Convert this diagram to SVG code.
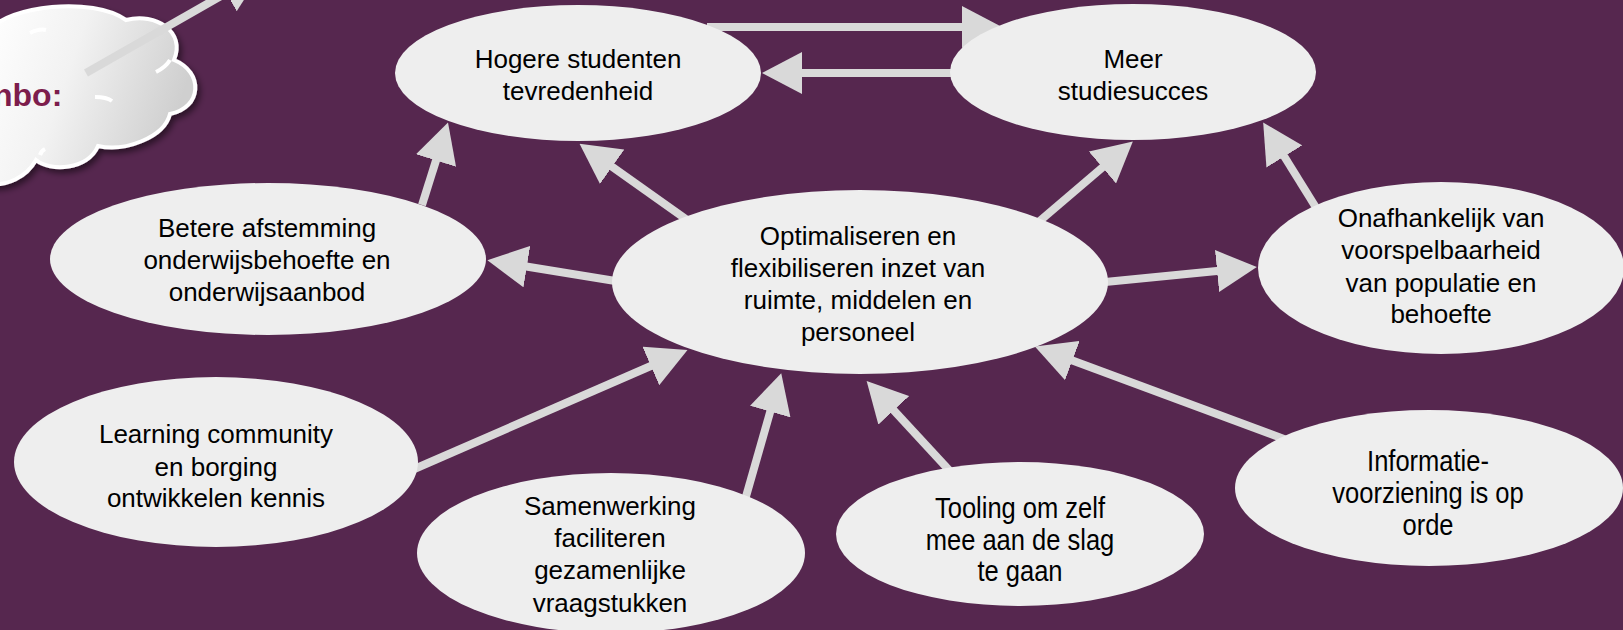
<svg xmlns="http://www.w3.org/2000/svg" width="1623" height="630" viewBox="0 0 1623 630">
<defs>
<style>
.node{fill:#EEEEEE;}
.lbl{font-family:"Liberation Sans",Arial,sans-serif;font-size:26px;fill:#000;text-anchor:middle;}
.nar{font-family:"Liberation Sans",Arial,sans-serif;font-size:29px;fill:#000;text-anchor:middle;}
.conn{stroke:#D9D9D9;stroke-width:8;fill:none;marker-end:url(#ah);}
</style>
<marker id="ah" markerUnits="userSpaceOnUse" markerWidth="40" markerHeight="42" refX="10" refY="21" orient="auto" viewBox="0 0 40 42">
<path d="M0,0 L40,21 L0,42 Z" fill="#D9D9D9"/>
</marker>
<linearGradient id="cloudg" x1="0" y1="0" x2="1" y2="0.3">
<stop offset="0" stop-color="#FFFFFF"/>
<stop offset="0.45" stop-color="#F2F2F2"/>
<stop offset="1" stop-color="#CFCFCF"/>
</linearGradient>
<filter id="shadow" x="-20%" y="-20%" width="150%" height="150%">
<feDropShadow dx="3" dy="4" stdDeviation="3" flood-color="#000" flood-opacity="0.5"/>
</filter>
</defs>
<rect width="1623" height="630" fill="#56274F"/>

<g id="cloud">
<path d="M-10,30 C8,6 92,-4 126,20 C156,12 186,32 174,60 C204,72 202,108 170,114 C164,138 124,152 98,146 C88,170 50,172 36,160 C26,178 6,186 -10,184 Z" fill="url(#cloudg)" stroke="#FFFFFF" stroke-width="4" filter="url(#shadow)"/>
<path d="M30,33 C36,30 42,29 46,30" fill="none" stroke="#FFFFFF" stroke-width="4"/>
<path d="M156,72 C162,69 167,65 170,60" fill="none" stroke="#FFFFFF" stroke-width="4"/>
<path d="M95,97 C102,97 108,98 112,101" fill="none" stroke="#FFFFFF" stroke-width="4"/>
<path d="M40,155 C41,152 43,150 45,149" fill="none" stroke="#FFFFFF" stroke-width="4"/>
<text x="-7" y="106" style="font-family:'Liberation Sans',Arial,sans-serif;font-size:32px;font-weight:bold;fill:#7D1D4C">nbo:</text>
</g>

<g id="connectors">
<line class="conn" x1="86" y1="73" x2="235" y2="-12"/>
<line class="conn" x1="707" y1="27" x2="972" y2="27"/>
<line class="conn" x1="990" y1="73" x2="792" y2="73"/>
<line class="conn" x1="422" y1="205" x2="439" y2="151"/>
<line class="conn" x1="690" y1="222" x2="604" y2="161"/>
<line class="conn" x1="640" y1="285" x2="517" y2="265"/>
<line class="conn" x1="1035" y1="225" x2="1110" y2="161"/>
<line class="conn" x1="1320" y1="214" x2="1279" y2="148"/>
<line class="conn" x1="1095" y1="283" x2="1227" y2="270"/>
<line class="conn" x1="412" y1="470" x2="660" y2="362"/>
<line class="conn" x1="745" y1="500" x2="773" y2="402"/>
<line class="conn" x1="960" y1="482" x2="887" y2="403"/>
<line class="conn" x1="1292" y1="442" x2="1063" y2="357"/>
</g>

<g id="n-hogere">
<ellipse class="node" cx="578" cy="73" rx="183" ry="68"/>
<text class="lbl" x="578" y="68">Hogere studenten</text>
<text class="lbl" x="578" y="100">tevredenheid</text>
</g>
<g id="n-meer">
<ellipse class="node" cx="1133" cy="72" rx="183" ry="68"/>
<text class="lbl" x="1133" y="68">Meer</text>
<text class="lbl" x="1133" y="100">studiesucces</text>
</g>
<g id="n-betere">
<ellipse class="node" cx="268" cy="259" rx="218" ry="76"/>
<text class="lbl" x="267" y="237">Betere afstemming</text>
<text class="lbl" x="267" y="269">onderwijsbehoefte en</text>
<text class="lbl" x="267" y="301">onderwijsaanbod</text>
</g>
<g id="n-optimaliseren">
<ellipse class="node" cx="860" cy="282" rx="248" ry="92"/>
<text class="lbl" x="858" y="245">Optimaliseren en</text>
<text class="lbl" x="858" y="277">flexibiliseren inzet van</text>
<text class="lbl" x="858" y="309">ruimte, middelen en</text>
<text class="lbl" x="858" y="341">personeel</text>
</g>
<g id="n-onafhankelijk">
<ellipse class="node" cx="1441" cy="268" rx="183" ry="86"/>
<text class="lbl" x="1441" y="227">Onafhankelijk van</text>
<text class="lbl" x="1441" y="259">voorspelbaarheid</text>
<text class="lbl" x="1441" y="292">van populatie en</text>
<text class="lbl" x="1441" y="323">behoefte</text>
</g>
<g id="n-learning">
<ellipse class="node" cx="216" cy="462" rx="202" ry="85"/>
<text class="lbl" x="216" y="443">Learning community</text>
<text class="lbl" x="216" y="476">en borging</text>
<text class="lbl" x="216" y="507">ontwikkelen kennis</text>
</g>
<g id="n-samenwerking">
<ellipse class="node" cx="611" cy="553" rx="194" ry="80"/>
<text class="lbl" x="610" y="515">Samenwerking</text>
<text class="lbl" x="610" y="547">faciliteren</text>
<text class="lbl" x="610" y="579">gezamenlijke</text>
<text class="lbl" x="610" y="612">vraagstukken</text>
</g>
<g id="n-tooling">
<ellipse class="node" cx="1020" cy="534" rx="184" ry="72"/>
<g transform="translate(1020,0) scale(0.88,1)">
<text class="nar" x="0" y="518">Tooling om zelf</text>
<text class="nar" x="0" y="550">mee aan de slag</text>
<text class="nar" x="0" y="581">te gaan</text>
</g>
</g>
<g id="n-informatie">
<ellipse class="node" cx="1429" cy="488" rx="194" ry="78"/>
<g transform="translate(1428,0) scale(0.88,1)">
<text class="nar" x="0" y="471">Informatie-</text>
<text class="nar" x="0" y="503">voorziening is op</text>
<text class="nar" x="0" y="535">orde</text>
</g>
</g>
</svg>
